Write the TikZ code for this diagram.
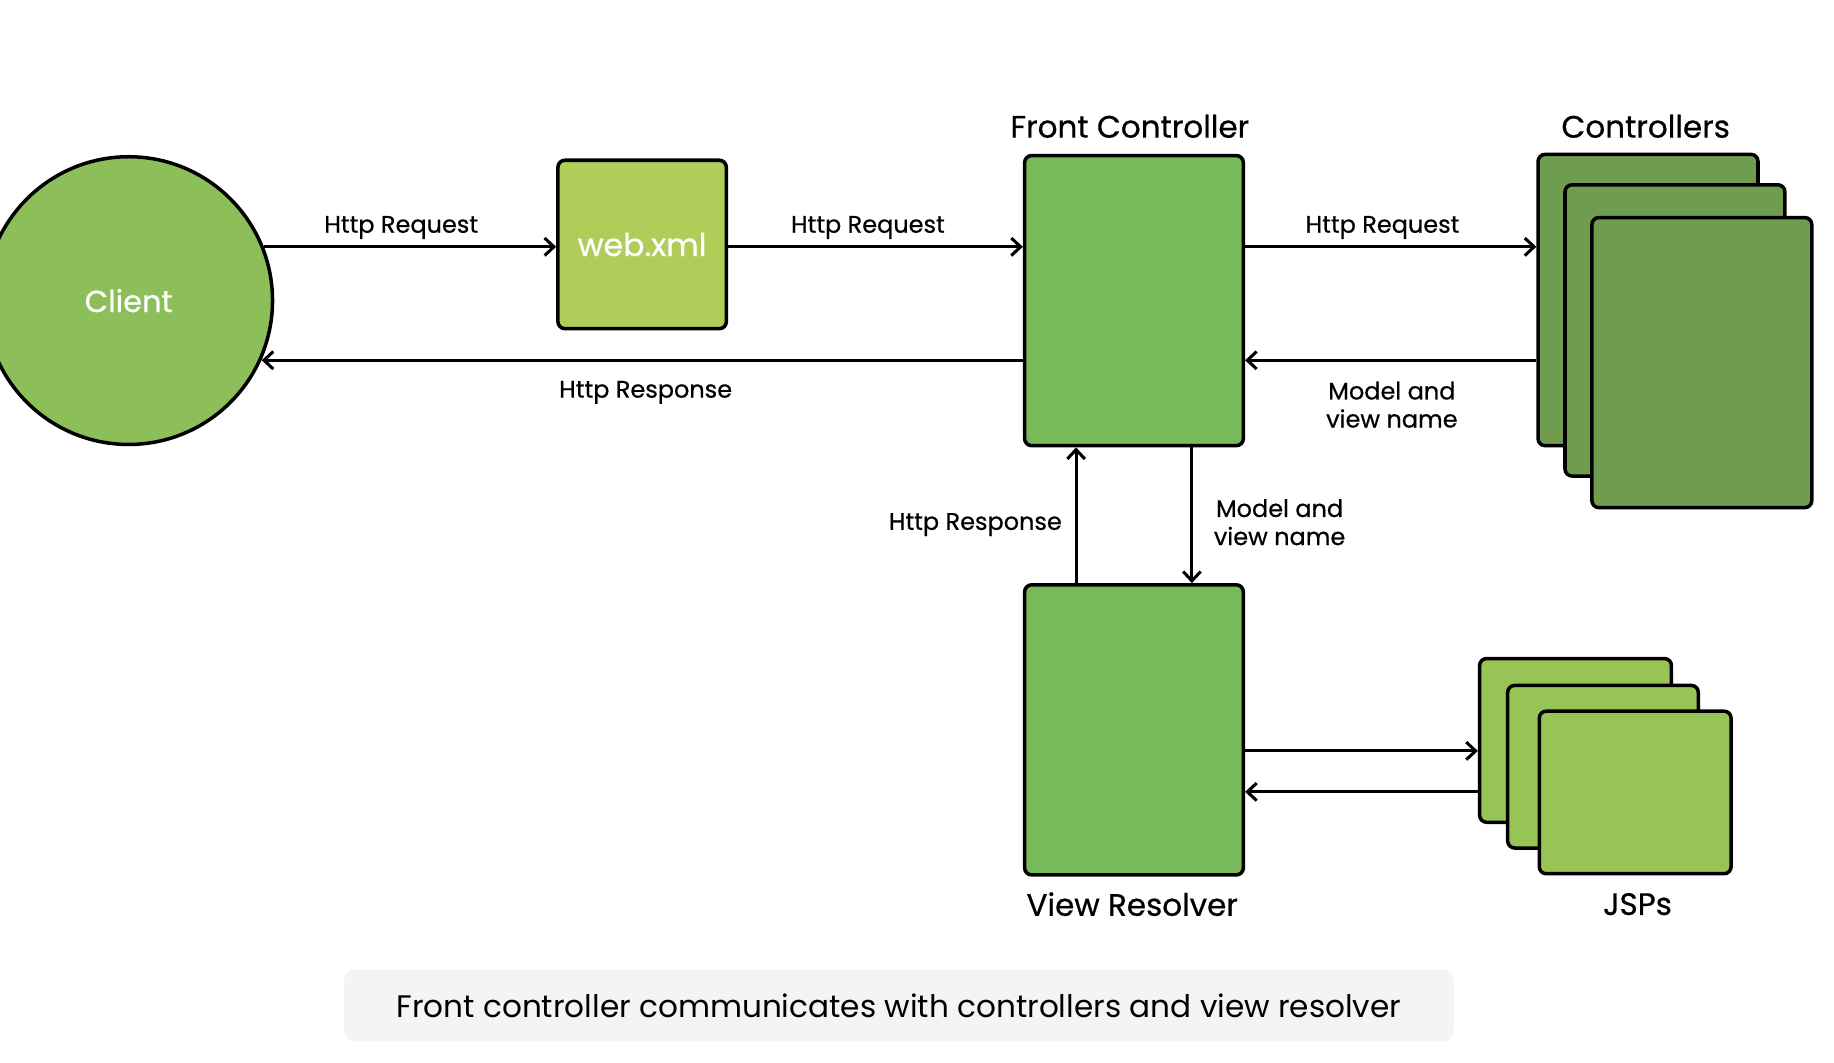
\documentclass[tikz,border=0pt]{standalone}
\usepackage{fontspec}
\setmainfont{Poppins}
\newfontfamily\medfont{Poppins}[FakeBold=0.6]
\usetikzlibrary{arrows.meta}
\definecolor{clientc}{HTML}{8CBF5A}
\definecolor{webc}{HTML}{AFCD58}
\definecolor{fcc}{HTML}{78B95A}
\definecolor{ctrlc}{HTML}{6F9C4E}
\definecolor{jspc}{HTML}{98C456}
\definecolor{capc}{HTML}{F4F4F4}
\tikzset{
  box/.style={draw=black, line width=3pt, rounded corners=6pt, inner sep=0pt},
  circ/.style={circle, draw=black, line width=3pt, fill=clientc, minimum size=246pt, inner sep=0pt},
  arr/.style={line width=2.6pt, -{Straight Barb[length=8pt,width=15pt,line width=2.6pt]}},
  lbl/.style={font=\medfont\fontsize{20.5}{24}\selectfont, align=center, inner sep=0pt},
  ttl/.style={font=\medfont\fontsize{26.5}{30}\selectfont, inner sep=0pt},
  wtxt/.style={text=white}
}
\begin{document}
\begin{tikzpicture}[x=1pt,y=-1pt]
\useasboundingbox (0,0) rectangle (1568,908);
% caption
\node[fill=capc, rounded corners=9pt, minimum width=949pt, minimum height=61pt, inner sep=0pt,
  font=\fontsize{26.6}{30}\selectfont] (cap) at (768.5,859.5) {Front controller communicates with controllers and view resolver};
% client
\node[circ, wtxt, font=\medfont\fontsize{26}{30}\selectfont] (client) at (110,257) {Client};
% web.xml
\node[box, fill=webc, minimum width=144pt, minimum height=144pt, wtxt, font=\medfont\fontsize{27}{30}\selectfont] (web) at (549,209) {web.xml};
% front controller
\node[box, fill=fcc, minimum width=187pt, minimum height=248pt] (fc) at (969.5,257) {};
\node[ttl] (fct) at (966,108) {Front Controller};
% controllers
\node[box, fill=ctrlc, minimum width=188pt, minimum height=249pt] (c1) at (1409,256.5) {};
\node[box, fill=ctrlc, minimum width=188pt, minimum height=249pt] (c2) at (1432,282.5) {};
\node[box, fill=ctrlc, minimum width=188pt, minimum height=248pt] (c3) at (1455,310) {};
\node[ttl] (ct) at (1407,108) {Controllers};
% view resolver
\node[box, fill=fcc, minimum width=187pt, minimum height=248pt] (vr) at (969.5,624) {};
\node[ttl] (vrt) at (968,773) {View Resolver};
% JSPs
\node[box, fill=jspc, minimum width=164pt, minimum height=140pt] (j1) at (1347,633) {};
\node[box, fill=jspc, minimum width=163pt, minimum height=139pt] (j2) at (1370.5,655.5) {};
\node[box, fill=jspc, minimum width=164pt, minimum height=139pt] (j3) at (1398,677.5) {};
\node[ttl] (jt) at (1400,773) {JSPs};
% helper coordinates
\coordinate (rq) at (0,211);
\coordinate (rs) at (0,308);
\coordinate (up) at (920,0);
\coordinate (dn) at (1019,0);
\coordinate (ja) at (0,642);
\coordinate (jb) at (0,677);
% arrows
\draw[arr] (rq -| client.22) -- (web.west |- rq);
\draw[arr] (web.east |- rq) -- (fc.west |- rq);
\draw[arr] (fc.east |- rq) -- (c1.west |- rq);
\draw[arr] (c1.west |- rs) -- (fc.east |- rs);
\draw[arr] (fc.west |- rs) -- (rs -| client.-24.5);
\draw[arr] (vr.north -| up) -- (fc.south -| up);
\draw[arr] (fc.south -| dn) -- (vr.north -| dn);
\draw[arr] (vr.east |- ja) -- (j1.west |- ja);
\draw[arr] (j1.west |- jb) -- (vr.east |- jb);
% labels
\node[lbl] (l1) at (343,194.5) {Http Request};
\node[lbl] (l2) at (742,194.5) {Http Request};
\node[lbl] (l3) at (1182,194.5) {Http Request};
\node[lbl] (l4) at (1190,346) {Model and\\view name};
\node[lbl] (l5) at (552,335.5) {Http Response};
\node[lbl, anchor=east] (l6) at (908,448.5) {Http Response};
\node[lbl] (l7) at (1094,446.5) {Model and\\view name};
\end{tikzpicture}
\end{document}
